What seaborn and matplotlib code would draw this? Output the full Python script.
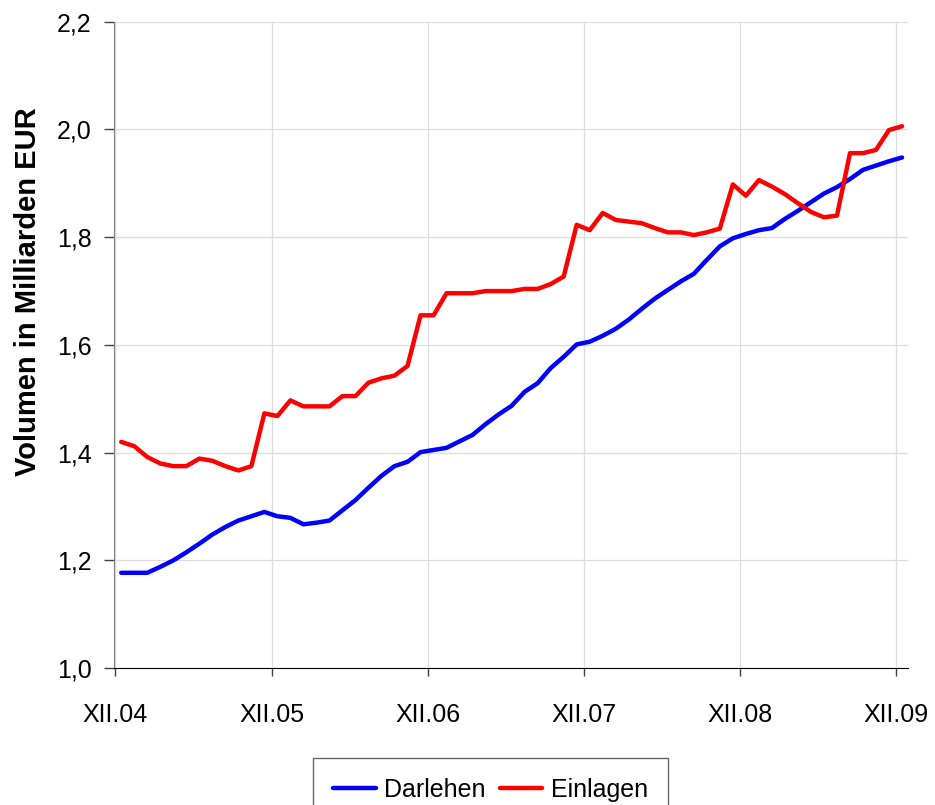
import numpy as np
import pandas as pd
import matplotlib
matplotlib.use("Agg")
import matplotlib.pyplot as plt
import seaborn as sns

# monthly values XII.04 .. XII.09, in bn EUR
darlehen = [1.177, 1.177, 1.177, 1.188, 1.200, 1.215, 1.231, 1.248, 1.262, 1.274,
            1.282, 1.290, 1.282, 1.279, 1.267, 1.270, 1.274, 1.293, 1.312, 1.335,
            1.357, 1.375, 1.383, 1.401, 1.405, 1.409, 1.421, 1.433, 1.453, 1.471,
            1.487, 1.513, 1.529, 1.557, 1.578, 1.601, 1.606, 1.617, 1.630, 1.647,
            1.667, 1.686, 1.702, 1.718, 1.732, 1.758, 1.783, 1.798, 1.806, 1.813,
            1.817, 1.834, 1.849, 1.865, 1.881, 1.893, 1.908, 1.925, 1.933, 1.941,
            1.948]
einlagen = [1.420, 1.412, 1.392, 1.380, 1.375, 1.375, 1.389, 1.385, 1.375, 1.367,
            1.375, 1.473, 1.468, 1.497, 1.486, 1.486, 1.486, 1.505, 1.505, 1.530,
            1.538, 1.543, 1.561, 1.655, 1.655, 1.696, 1.696, 1.696, 1.700, 1.700,
            1.700, 1.704, 1.704, 1.713, 1.727, 1.823, 1.813, 1.845, 1.832, 1.829,
            1.826, 1.817, 1.809, 1.809, 1.804, 1.809, 1.816, 1.898, 1.877, 1.906,
            1.894, 1.880, 1.863, 1.847, 1.837, 1.840, 1.956, 1.956, 1.962, 1.999,
            2.006]
year_labels = ["XII.04", "XII.05", "XII.06", "XII.07", "XII.08", "XII.09"]
y_ticks = [1.0, 1.2, 1.4, 1.6, 1.8, 2.0, 2.2]

# months since XII.04, points sit a bit right of the tick like in excel
month = np.arange(len(darlehen)) + 0.45
df = pd.DataFrame({
    "month": np.concatenate([month, month]),
    "value": darlehen + einlagen,
    "series": ["Darlehen"] * len(darlehen) + ["Einlagen"] * len(einlagen),
})

sns.set_style("white")
plt.rcParams["font.family"] = ["Liberation Sans Narrow", "Liberation Sans", "DejaVu Sans"]
plt.rcParams["text.color"] = "black"
plt.rcParams["xtick.color"] = "black"
plt.rcParams["ytick.color"] = "black"
plt.rcParams["axes.labelcolor"] = "black"

fig = plt.figure(figsize=(9.35, 8.05), dpi=100)
ax = fig.add_axes([0.122, 0.170, 0.849, 0.803])

sns.lineplot(data=df, x="month", y="value", hue="series",
             palette={"Darlehen": "#0000ff", "Einlagen": "#ff0000"},
             linewidth=3.2, ax=ax, legend=False)

ax.set_xlim(-0.1, 60.9)
ax.set_ylim(1.0, 2.2)
ax.set_xticks(np.arange(len(year_labels)) * 12)
ax.set_xticklabels(year_labels)
ax.set_yticks(y_ticks)
ax.set_yticklabels([f"{v:.1f}".replace(".", ",") for v in y_ticks])
ax.grid(True, color="#dcdcdc", linewidth=0.9)
ax.set_axisbelow(True)

for s in ["top", "right"]:
    ax.spines[s].set_visible(False)
ax.spines["left"].set_color("#808080")
ax.spines["bottom"].set_color("black")
ax.tick_params(axis="y", direction="out", length=7, width=1, color="#404040",
               labelsize=18, pad=9, left=True)
ax.tick_params(axis="x", direction="out", length=6, width=1, color="#404040",
               labelsize=18, pad=19, bottom=True)

ax.set_xlabel("")
ax.set_ylabel("Volumen in Milliarden EUR", fontsize=21, fontweight="bold",
              family=["Liberation Sans", "DejaVu Sans"])
ax.yaxis.set_label_coords(-0.091, 0.583)

# legend box runs off the bottom edge, as in the original
handles = [plt.Line2D([], [], color="#0000ff", linewidth=3.2),
           plt.Line2D([], [], color="#ff0000", linewidth=3.2)]
leg = fig.legend(handles, ["Darlehen", "Einlagen"], loc="upper center",
                 bbox_to_anchor=(490.5 / 935, 1 - 758 / 805), ncol=2,
                 fontsize=18, frameon=True, fancybox=False, handlelength=1.7,
                 handletextpad=0.35, columnspacing=0.55, borderpad=0.8,
                 borderaxespad=0)
leg.get_frame().set_edgecolor("#404040")
leg.get_frame().set_linewidth(1)

fig.savefig("out.png", dpi=100)
